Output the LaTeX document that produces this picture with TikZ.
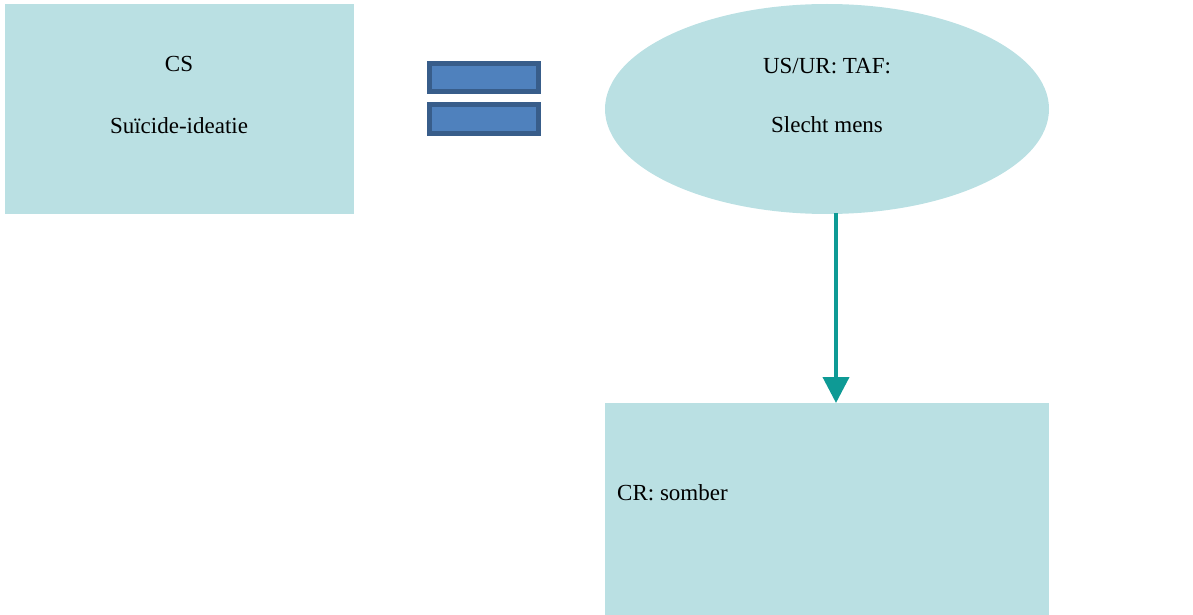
\documentclass[tikz,border=0pt]{standalone}
\usepackage{fontspec}
\setmainfont{Liberation Serif}
\usetikzlibrary{arrows.meta,shapes.geometric}
\definecolor{boxfill}{HTML}{BAE0E3}
\definecolor{baredge}{HTML}{385D8A}
\definecolor{barfill}{HTML}{4F81BD}
\definecolor{arrowteal}{HTML}{0E9A95}
\begin{document}
\begin{tikzpicture}[x=1pt,y=-1pt,
  panel/.style={fill=boxfill,draw=none,inner sep=0pt},
  bar/.style={fill=barfill,draw=baredge,line width=5pt},
  lbl/.style={font=\fontsize{23}{27}\selectfont,inner sep=0pt},
  flow/.style={draw=arrowteal,line width=4pt,-{Triangle[length=26pt,width=26pt]}}]
\useasboundingbox (0,0) rectangle (1193,615);
% conditioned stimulus
\node[panel,minimum width=349pt,minimum height=210pt] (cs) at (179.5,109) {};
\node[lbl] (csA) at (179,64) {CS};
\node[lbl] (csB) at (179,126) {Suïcide-ideatie};
% equals sign
\draw[bar] (429.5,63.5) rectangle (538.5,91.5);
\draw[bar] (429.5,104.5) rectangle (538.5,133.5);
% unconditioned stimulus / response
\node[panel,ellipse,minimum width=444pt,minimum height=210pt] (us) at (827,109) {};
\node[lbl] (usA) at (827,66) {US/UR: TAF:};
\node[lbl] (usB) at (827,125) {Slecht mens};
% conditioned response
\node[panel,minimum width=444pt,minimum height=212pt] (cr) at (827,509) {};
\node[lbl,anchor=west] (crA) at (617,493) {CR: somber};
% connector
\coordinate (from) at (836,213);
\coordinate (to) at (836,403);
\draw[flow] (from) -- (to);
\end{tikzpicture}
\end{document}
